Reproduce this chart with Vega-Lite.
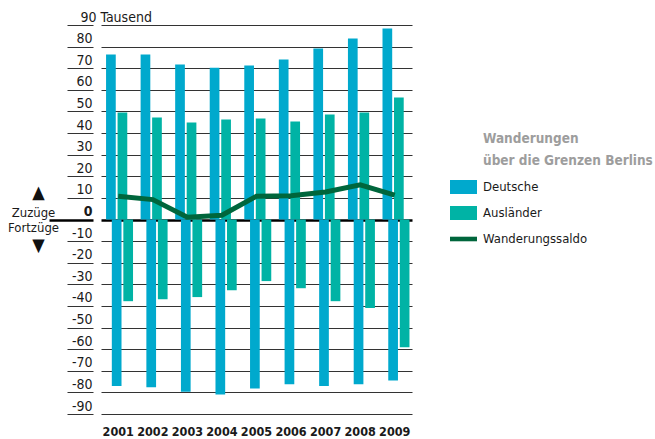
{
  "$schema": "https://vega.github.io/schema/vega-lite/v6.json",
  "width": 311,
  "height": 389,
  "autosize": {"type": "none"},
  "padding": {"left": 101, "top": 25, "right": 243, "bottom": 25},
  "background": "white",
  "config": {
    "font": "DejaVu Sans Condensed, Roboto, sans-serif",
    "view": {"stroke": null}
  },
  "datasets": {
    "bars": [
      {"jahr": "2001", "herkunft": "Deutsche", "richtung": "Zuzüge", "gruppe": "Deutsche Zuzüge", "wert": 76.4},
      {"jahr": "2002", "herkunft": "Deutsche", "richtung": "Zuzüge", "gruppe": "Deutsche Zuzüge", "wert": 76.4},
      {"jahr": "2003", "herkunft": "Deutsche", "richtung": "Zuzüge", "gruppe": "Deutsche Zuzüge", "wert": 71.7},
      {"jahr": "2004", "herkunft": "Deutsche", "richtung": "Zuzüge", "gruppe": "Deutsche Zuzüge", "wert": 70.2},
      {"jahr": "2005", "herkunft": "Deutsche", "richtung": "Zuzüge", "gruppe": "Deutsche Zuzüge", "wert": 71.3},
      {"jahr": "2006", "herkunft": "Deutsche", "richtung": "Zuzüge", "gruppe": "Deutsche Zuzüge", "wert": 74.0},
      {"jahr": "2007", "herkunft": "Deutsche", "richtung": "Zuzüge", "gruppe": "Deutsche Zuzüge", "wert": 79.1},
      {"jahr": "2008", "herkunft": "Deutsche", "richtung": "Zuzüge", "gruppe": "Deutsche Zuzüge", "wert": 83.8},
      {"jahr": "2009", "herkunft": "Deutsche", "richtung": "Zuzüge", "gruppe": "Deutsche Zuzüge", "wert": 88.4},
      {"jahr": "2001", "herkunft": "Ausländer", "richtung": "Zuzüge", "gruppe": "Ausländer Zuzüge", "wert": 49.5},
      {"jahr": "2002", "herkunft": "Ausländer", "richtung": "Zuzüge", "gruppe": "Ausländer Zuzüge", "wert": 47.2},
      {"jahr": "2003", "herkunft": "Ausländer", "richtung": "Zuzüge", "gruppe": "Ausländer Zuzüge", "wert": 44.9},
      {"jahr": "2004", "herkunft": "Ausländer", "richtung": "Zuzüge", "gruppe": "Ausländer Zuzüge", "wert": 46.3},
      {"jahr": "2005", "herkunft": "Ausländer", "richtung": "Zuzüge", "gruppe": "Ausländer Zuzüge", "wert": 46.7},
      {"jahr": "2006", "herkunft": "Ausländer", "richtung": "Zuzüge", "gruppe": "Ausländer Zuzüge", "wert": 45.3},
      {"jahr": "2007", "herkunft": "Ausländer", "richtung": "Zuzüge", "gruppe": "Ausländer Zuzüge", "wert": 48.6},
      {"jahr": "2008", "herkunft": "Ausländer", "richtung": "Zuzüge", "gruppe": "Ausländer Zuzüge", "wert": 49.5},
      {"jahr": "2009", "herkunft": "Ausländer", "richtung": "Zuzüge", "gruppe": "Ausländer Zuzüge", "wert": 56.5},
      {"jahr": "2001", "herkunft": "Deutsche", "richtung": "Fortzüge", "gruppe": "Deutsche Fortzüge", "wert": -77.1},
      {"jahr": "2002", "herkunft": "Deutsche", "richtung": "Fortzüge", "gruppe": "Deutsche Fortzüge", "wert": -77.6},
      {"jahr": "2003", "herkunft": "Deutsche", "richtung": "Fortzüge", "gruppe": "Deutsche Fortzüge", "wert": -79.7},
      {"jahr": "2004", "herkunft": "Deutsche", "richtung": "Fortzüge", "gruppe": "Deutsche Fortzüge", "wert": -81.0},
      {"jahr": "2005", "herkunft": "Deutsche", "richtung": "Fortzüge", "gruppe": "Deutsche Fortzüge", "wert": -78.2},
      {"jahr": "2006", "herkunft": "Deutsche", "richtung": "Fortzüge", "gruppe": "Deutsche Fortzüge", "wert": -76.2},
      {"jahr": "2007", "herkunft": "Deutsche", "richtung": "Fortzüge", "gruppe": "Deutsche Fortzüge", "wert": -77.1},
      {"jahr": "2008", "herkunft": "Deutsche", "richtung": "Fortzüge", "gruppe": "Deutsche Fortzüge", "wert": -76.2},
      {"jahr": "2009", "herkunft": "Deutsche", "richtung": "Fortzüge", "gruppe": "Deutsche Fortzüge", "wert": -74.5},
      {"jahr": "2001", "herkunft": "Ausländer", "richtung": "Fortzüge", "gruppe": "Ausländer Fortzüge", "wert": -37.8},
      {"jahr": "2002", "herkunft": "Ausländer", "richtung": "Fortzüge", "gruppe": "Ausländer Fortzüge", "wert": -36.9},
      {"jahr": "2003", "herkunft": "Ausländer", "richtung": "Fortzüge", "gruppe": "Ausländer Fortzüge", "wert": -35.9},
      {"jahr": "2004", "herkunft": "Ausländer", "richtung": "Fortzüge", "gruppe": "Ausländer Fortzüge", "wert": -32.7},
      {"jahr": "2005", "herkunft": "Ausländer", "richtung": "Fortzüge", "gruppe": "Ausländer Fortzüge", "wert": -28.5},
      {"jahr": "2006", "herkunft": "Ausländer", "richtung": "Fortzüge", "gruppe": "Ausländer Fortzüge", "wert": -31.8},
      {"jahr": "2007", "herkunft": "Ausländer", "richtung": "Fortzüge", "gruppe": "Ausländer Fortzüge", "wert": -37.8},
      {"jahr": "2008", "herkunft": "Ausländer", "richtung": "Fortzüge", "gruppe": "Ausländer Fortzüge", "wert": -41.0},
      {"jahr": "2009", "herkunft": "Ausländer", "richtung": "Fortzüge", "gruppe": "Ausländer Fortzüge", "wert": -59.1}
    ],
    "saldo": [
      {"jahr": "2001", "reihe": "Wanderungssaldo", "wert": 10.8},
      {"jahr": "2002", "reihe": "Wanderungssaldo", "wert": 9.2},
      {"jahr": "2003", "reihe": "Wanderungssaldo", "wert": 1.1},
      {"jahr": "2004", "reihe": "Wanderungssaldo", "wert": 2.0},
      {"jahr": "2005", "reihe": "Wanderungssaldo", "wert": 10.8},
      {"jahr": "2006", "reihe": "Wanderungssaldo", "wert": 11.0},
      {"jahr": "2007", "reihe": "Wanderungssaldo", "wert": 12.7},
      {"jahr": "2008", "reihe": "Wanderungssaldo", "wert": 16.0},
      {"jahr": "2009", "reihe": "Wanderungssaldo", "wert": 11.3}
    ]
  },
  "encoding": {
    "x": {
      "field": "jahr",
      "type": "ordinal",
      "scale": {"paddingInner": 0, "paddingOuter": 0},
      "axis": {
        "domain": false,
        "ticks": false,
        "labelAngle": 0,
        "labelFontSize": 12.5,
        "labelFontWeight": "bold",
        "labelColor": "#1a1a1a",
        "labelPadding": 11,
        "title": ["▲", "▼"],
        "titleFontSize": 18,
        "titleFontWeight": "normal",
        "titleColor": "#111111",
        "titleLineHeight": 53,
        "titleAlign": "center",
        "titleBaseline": "top",
        "titleAnchor": "start",
        "titleX": -63,
        "titleY": -231
      }
    },
    "y": {
      "field": "wert",
      "type": "quantitative",
      "scale": {"domain": [-90, 90], "nice": false},
      "axis": {
        "values": [-90, -80, -70, -60, -50, -40, -30, -20, -10, 0, 10, 20, 30, 40, 50, 60, 70, 80, 90],
        "domain": false,
        "grid": true,
        "gridColor": {"condition": {"test": "datum.value === 0", "value": "#000000"}, "value": "#333333"},
        "gridWidth": {"condition": {"test": "datum.value === 0", "value": 2.5}, "value": 1},
        "offset": 8,
        "tickColor": {"condition": {"test": "datum.value === 0", "value": "#000000"}, "value": "#333333"},
        "tickWidth": {"condition": {"test": "datum.value === 0", "value": 2.5}, "value": 1},
        "tickSize": {"condition": {"test": "datum.value === 0", "value": 44}, "value": 26},
        "labelExpr": "datum.value === 90 ? '90  Tausend' : '' + datum.value",
        "labelAlign": {"condition": {"test": "datum.value === 90", "value": "left"}, "value": "right"},
        "labelPadding": {"condition": [{"test": "datum.value === 90", "value": -13}, {"test": "datum.value === 0", "value": -43}], "value": -25},
        "labelBaseline": "alphabetic",
        "labelOffset": -4,
        "labelFontSize": 14,
        "labelColor": "#1a1a1a",
        "labelFontWeight": {"condition": {"test": "datum.value === 0", "value": "bold"}, "value": "normal"},
        "title": ["Zuzüge", "Fortzüge"],
        "titleAngle": 0,
        "titleAlign": "center",
        "titleBaseline": "top",
        "titleX": -60,
        "titleY": 181,
        "titleFontSize": 13,
        "titleFontWeight": "normal",
        "titleColor": "#1a1a1a",
        "titleLineHeight": 15.5
      }
    }
  },
  "layer": [
    {
      "data": {"name": "bars"},
      "mark": {"type": "bar", "width": 9.7},
      "encoding": {
        "xOffset": {
          "field": "gruppe",
          "type": "nominal",
          "scale": {
            "domain": ["Deutsche Zuzüge", "Deutsche Fortzüge", "Ausländer Zuzüge", "Ausländer Fortzüge"],
            "paddingInner": 0,
            "paddingOuter": 1.07,
            "align": 0.61
          }
        },
        "color": {
          "field": "herkunft",
          "type": "nominal",
          "scale": {
            "domain": ["Deutsche", "Ausländer", "Wanderungssaldo"],
            "range": ["#00a9cd", "#00b3a5", "#00663c"]
          },
          "legend": {
            "orient": "none",
            "legendX": 349,
            "legendY": 107,
            "title": ["Wanderungen", "über die Grenzen Berlins"],
            "titleFontSize": 13.5,
            "titleFontWeight": "bold",
            "titleColor": "#9d9d9d",
            "titleLineHeight": 22,
            "titlePadding": 6,
            "titleLimit": 600,
            "labelFontSize": 13,
            "labelLimit": 300,
            "labelColor": "#1a1a1a",
            "labelOffset": 6,
            "symbolSize": 729,
            "symbolType": "M-1,-0.52H1V0.52H-1Z",
            "symbolStrokeWidth": 0,
            "rowPadding": 5,
            "encode": {
              "title": {"update": {"dx": {"value": 33}}},
              "symbols": {
                "update": {
                  "shape": {"signal": "datum.value === 'Wanderungssaldo' ? 'M-1,-0.17H1V0.17H-1Z' : 'M-1,-0.52H1V0.52H-1Z'"},
                  "fill": {"scale": "color", "field": "value"},
                  "strokeWidth": {"value": 0},
                  "opacity": {"value": 1}
                }
              }
            }
          }
        }
      }
    },
    {
      "data": {"name": "saldo"},
      "mark": {"type": "line", "strokeWidth": 5, "strokeJoin": "miter"},
      "encoding": {
        "color": {"field": "reihe", "type": "nominal"}
      }
    }
  ]
}
